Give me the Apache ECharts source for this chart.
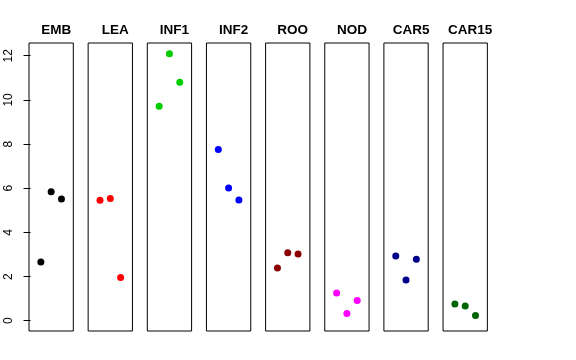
<!DOCTYPE html>
<html><head><meta charset="utf-8">
<script src="https://cdn.jsdelivr.net/npm/echarts@6/dist/echarts.min.js"></script>
<style>html,body{margin:0;padding:0;background:#fff}#c{width:576px;height:360px}</style>
</head><body><div id="c"></div>
<script>
const categories = ['EMB','LEA','INF1','INF2','ROO','NOD','CAR5','CAR15'];
const replicates = [1, 2, 3];
const EMB   = [2.66, 5.84, 5.51];
const LEA   = [5.45, 5.53, 1.96];
const INF1  = [9.71, 12.09, 10.80];
const INF2  = [7.75, 6.01, 5.47];
const ROO   = [2.39, 3.08, 3.02];
const NOD   = [1.25, 0.33, 0.92];
const CAR5  = [2.93, 1.84, 2.78];
const CAR15 = [0.76, 0.67, 0.24];
const yTicks = [0, 2, 4, 6, 8, 10, 12];
const colors = ['#000000','#FF0000','#00CD00','#0000FF','#8B0000','#FF00FF','#00008B','#006400'];
const values = [EMB, LEA, INF1, INF2, ROO, NOD, CAR5, CAR15];

(function () {
const FONT = 'Liberation Sans, Arial, Helvetica, sans-serif';
const left0 = 29, step = 59.15, pw = 44.3, ptop = 43, ph = 288;
const grids = [], xAxes = [], yAxes = [], series = [], titles = [];
categories.forEach((cat, i) => {
  const l = left0 + step * i;
  grids.push({left: l, top: ptop, width: pw, height: ph, show: true,
    borderColor: '#000', borderWidth: 1, backgroundColor: 'transparent', containLabel: false});
  xAxes.push({type: 'value', gridIndex: i, min: -0.15, max: 4.15, show: false});
  yAxes.push({type: 'value', gridIndex: i, min: -0.466, max: 12.577,
    show: i === 0,
    axisLine: {show: false},
    splitLine: {show: false},
    axisTick: {show: true, length: 7, inside: false, lineStyle: {color: '#000', width: 1}, customValues: yTicks},
    axisLabel: {show: true, rotate: 90, margin: 14, fontSize: 12, color: '#000', fontFamily: FONT, customValues: yTicks}
  });
  series.push({type: 'scatter', xAxisIndex: i, yAxisIndex: i, symbol: 'circle', symbolSize: 7,
    itemStyle: {color: colors[i], opacity: 1},
    data: replicates.map((x, k) => [x, values[i][k]]), silent: true, animation: false});
  titles.push({text: cat, left: l + pw / 2, top: 18, textAlign: 'center',
    textStyle: {fontSize: 13.5, fontWeight: 'bold', color: '#000', fontFamily: FONT}});
});
const chart = echarts.init(document.getElementById('c'), null, {renderer: 'canvas'});
chart.setOption({animation: false, backgroundColor: '#fff', title: titles, grid: grids, xAxis: xAxes, yAxis: yAxes, series: series});
})();
</script></body></html>
